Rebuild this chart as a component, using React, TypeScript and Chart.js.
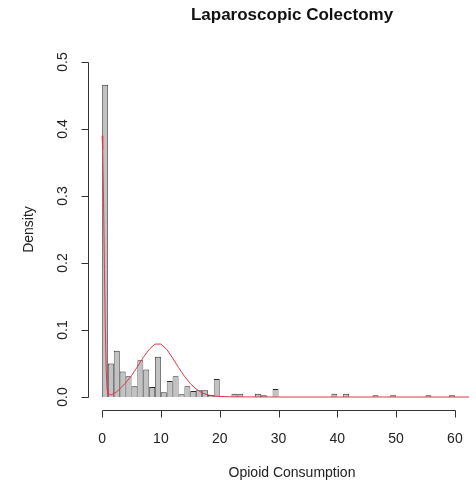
import React, { useEffect, useRef } from "react";
import { Chart, registerables } from "chart.js";

Chart.register(...registerables);

// Histogram bins (left edges, width 1) and density heights
const binLefts: number[] = Array.from({ length: 60 }, (_, i) => i);
const binDensity: number[] = [
  0.466, 0.05, 0.069, 0.038, 0.031, 0.016, 0.055, 0.041, 0.015, 0.06,
  0.007, 0.024, 0.031, 0.004, 0.016, 0.009, 0.01, 0.01, 0.003, 0.027,
  0, 0, 0.005, 0.005, 0, 0, 0.005, 0.0025, 0, 0.012,
  0, 0, 0, 0, 0, 0, 0, 0, 0, 0.005,
  0, 0.005, 0, 0, 0, 0, 0.0025, 0, 0, 0.0025,
  0, 0, 0, 0, 0, 0.0025, 0, 0, 0, 0.0025,
];

// Density curve
const curveX: number[] = [
  0, 0.1, 0.25, 0.4, 0.55, 0.7, 0.85, 1.0, 1.5, 2, 2.5, 3, 4, 5, 6, 7, 8, 9,
  10, 11, 12, 13, 14, 15, 16, 17, 18, 19, 20, 22, 25, 30, 40, 50, 60, 62.5,
];
const curveY: number[] = [
  0.39, 0.37, 0.29, 0.19, 0.1, 0.04, 0.012, 0.004, 0.003, 0.005, 0.008,
  0.012, 0.021, 0.032, 0.045, 0.059, 0.071, 0.079, 0.079, 0.071, 0.058,
  0.044, 0.031, 0.02, 0.012, 0.006, 0.003, 0.0015, 0.0008, 0.0003, 0.0001,
  0, 0, 0, 0, 0,
];

const xTicks: number[] = [0, 10, 20, 30, 40, 50, 60];
const yTicks: number[] = [0, 0.1, 0.2, 0.3, 0.4, 0.5];
const yTickLabels: string[] = ["0.0", "0.1", "0.2", "0.3", "0.4", "0.5"];

const TITLE = "Laparoscopic Colectomy";
const X_TITLE = "Opioid Consumption";
const Y_TITLE = "Density";

const FONT = '"Liberation Sans", Arial, Helvetica, sans-serif';
const AXIS_COLOR = "#333333";

const rAxesPlugin = {
  id: "rAxes",
  afterDraw(chart: any) {
    const ctx = chart.ctx as CanvasRenderingContext2D;
    const xs = chart.scales.x;
    const ys = chart.scales.y;
    const area = chart.chartArea;
    ctx.save();
    ctx.strokeStyle = AXIS_COLOR;
    ctx.fillStyle = "#222";
    ctx.lineWidth = 1;

    // x axis
    const axY = Math.round(area.bottom) + 0.5;
    const x0 = Math.round(xs.getPixelForValue(xTicks[0])) + 0.5;
    const x1 = Math.round(xs.getPixelForValue(xTicks[xTicks.length - 1])) + 0.5;
    ctx.beginPath();
    ctx.moveTo(x0, axY);
    ctx.lineTo(x1, axY);
    for (const t of xTicks) {
      const px = Math.round(xs.getPixelForValue(t)) + 0.5;
      ctx.moveTo(px, axY);
      ctx.lineTo(px, axY + 7);
    }
    ctx.stroke();
    ctx.font = `14px ${FONT}`;
    ctx.textAlign = "center";
    ctx.textBaseline = "alphabetic";
    for (const t of xTicks) {
      ctx.fillText(String(t), xs.getPixelForValue(t), axY + 32);
    }

    // y axis
    const axX = Math.round(area.left) + 0.5;
    const y0 = Math.round(ys.getPixelForValue(yTicks[0])) + 0.5;
    const y1 = Math.round(ys.getPixelForValue(yTicks[yTicks.length - 1])) + 0.5;
    ctx.beginPath();
    ctx.moveTo(axX, y0);
    ctx.lineTo(axX, y1);
    for (const t of yTicks) {
      const py = Math.round(ys.getPixelForValue(t)) + 0.5;
      ctx.moveTo(axX, py);
      ctx.lineTo(axX - 7, py);
    }
    ctx.stroke();
    yTicks.forEach((t, i) => {
      const py = ys.getPixelForValue(t);
      ctx.save();
      ctx.translate(axX - 22, py);
      ctx.rotate(-Math.PI / 2);
      ctx.fillText(yTickLabels[i], 0, 0);
      ctx.restore();
    });

    // axis titles
    const midY = (area.top + area.bottom) / 2;
    ctx.save();
    ctx.translate(axX - 56, midY);
    ctx.rotate(-Math.PI / 2);
    ctx.fillText(Y_TITLE, 0, 0);
    ctx.restore();

    const titleCx = 292;
    ctx.fillText(X_TITLE, titleCx, axY + 66);

    ctx.font = `bold 17px ${FONT}`;
    ctx.fillStyle = "#111";
    ctx.fillText(TITLE, titleCx, 20);
    ctx.restore();
  },
};

export default function App() {
  const ref = useRef<HTMLCanvasElement | null>(null);
  useEffect(() => {
    document.body.style.margin = "0";
    const canvas = ref.current;
    if (!canvas) return;
    const chart = new Chart(canvas, {
      type: "bar",
      data: {
        datasets: [
          {
            type: "line",
            data: curveX.map((x, i) => ({ x, y: curveY[i] })),
            borderColor: "#e3374b",
            borderWidth: 1,
            pointRadius: 0,
            tension: 0,
            fill: false,
            order: 0,
          } as any,
          {
            type: "bar",
            data: binLefts.map((b, i) => ({ x: b + 0.5, y: binDensity[i] })),
            backgroundColor: "#c2c2c2",
            borderColor: "#2a2a2a",
            borderWidth: { top: 1, left: 0.75, right: 0.75, bottom: 0 },
            borderSkipped: "start",
            inflateAmount: 0,
            barPercentage: 1,
            categoryPercentage: 1,
            order: 1,
          } as any,
        ],
      },
      options: {
        responsive: false,
        animation: false,
        events: [],
        layout: { padding: { left: 88, right: 7, top: 48.6, bottom: 73.6 } },
        plugins: {
          legend: { display: false },
          tooltip: { enabled: false },
          title: { display: false },
        },
        scales: {
          x: {
            type: "linear",
            min: -2.4,
            max: 62.4,
            offset: false,
            display: false,
            ticks: { stepSize: 10 },
          },
          y: {
            type: "linear",
            min: -0.02,
            max: 0.52,
            display: false,
          },
        },
      },
      plugins: [rAxesPlugin],
    });
    return () => chart.destroy();
  }, []);
  return (
    <canvas
      ref={ref}
      width={476}
      height={484}
      style={{ display: "block", width: 476, height: 484 }}
    />
  );
}
